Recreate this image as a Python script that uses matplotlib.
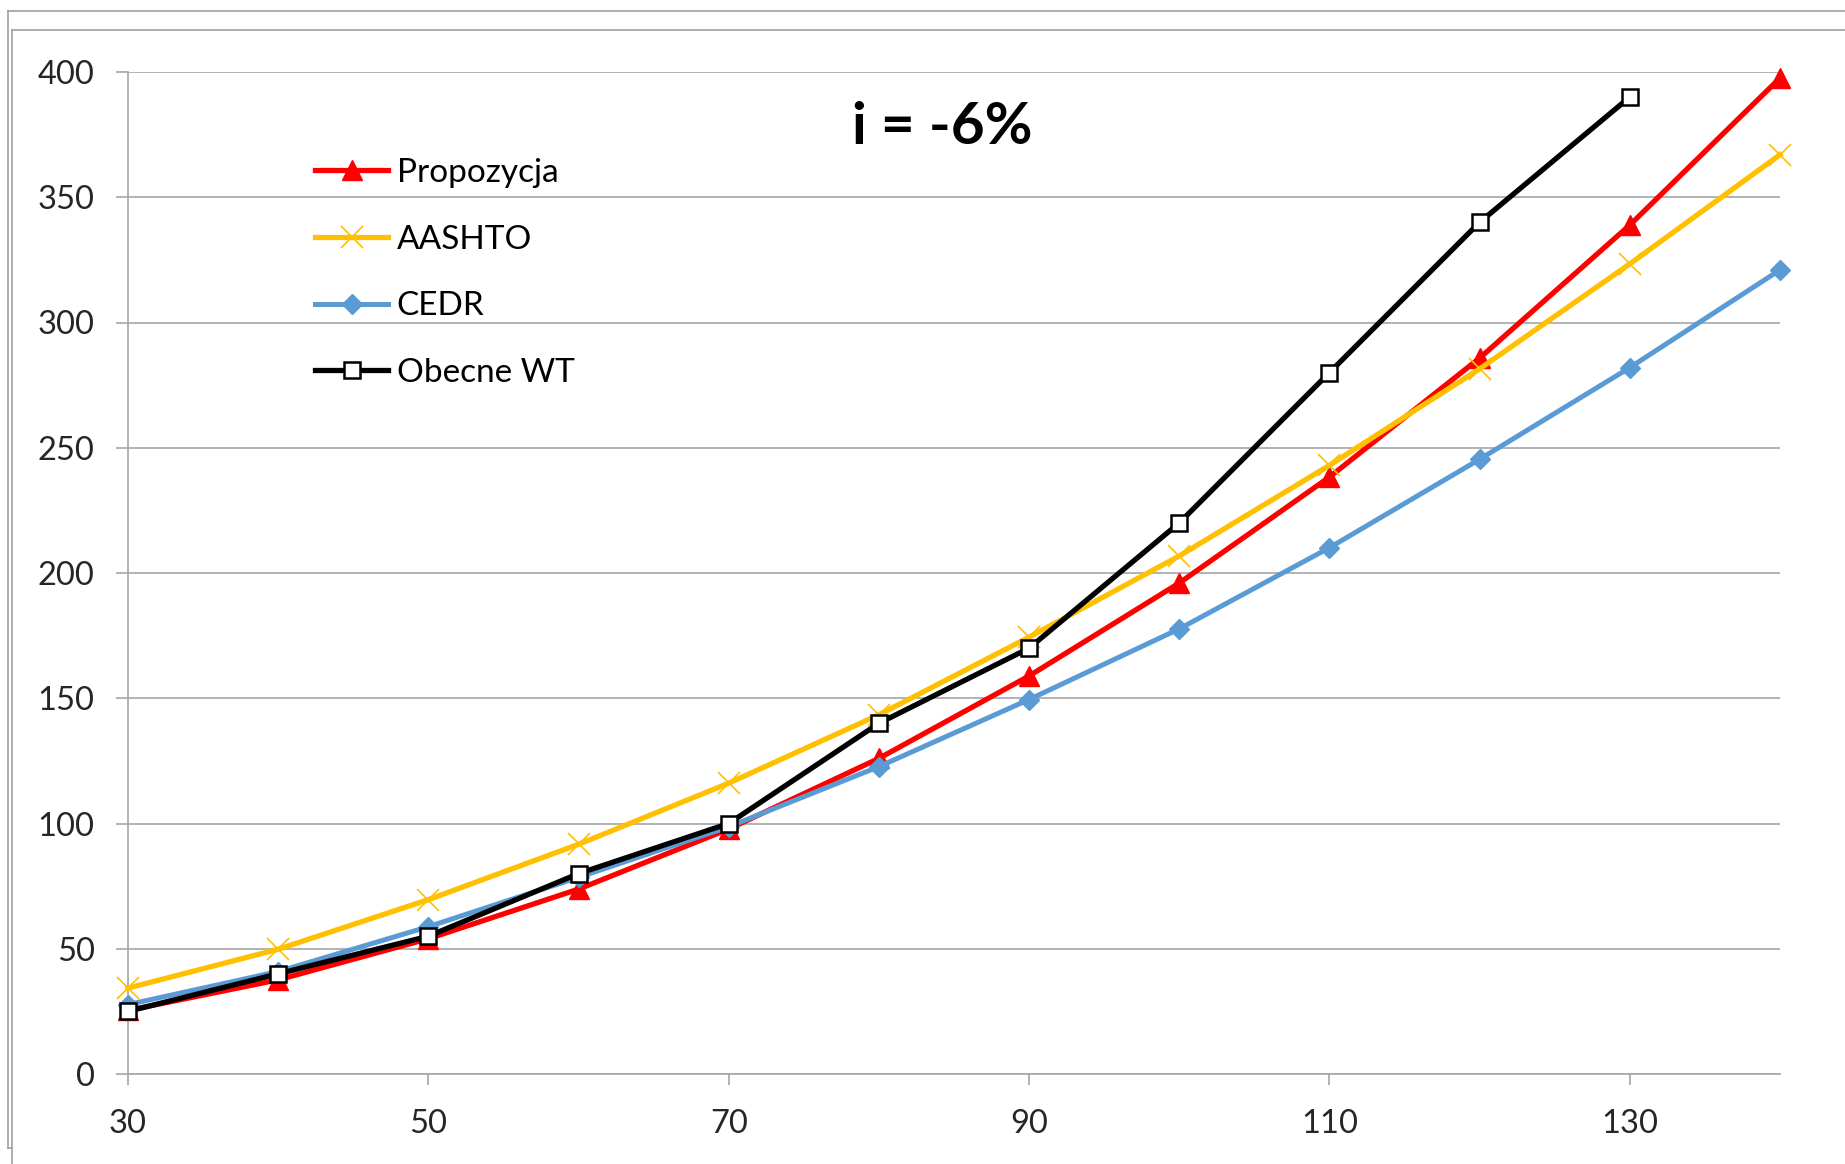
import matplotlib
matplotlib.use('Agg')
import matplotlib.pyplot as plt
from matplotlib.lines import Line2D

plt.rcParams['font.family'] = ['Lato', 'DejaVu Sans']

# speed values (x axis)
speeds = [30, 40, 50, 60, 70, 80, 90, 100, 110, 120, 130, 140]
speeds_wt = [30, 40, 50, 60, 70, 80, 90, 100, 110, 120, 130]

propozycja = [25.4, 37.6, 54, 73.8, 97.8, 126, 158.9, 196, 238.3, 285.8, 338.9, 397.6]
aashto = [34.3, 49.8, 69.6, 91.7, 116.1, 143.4, 174.4, 206.8, 243, 281.5, 323.4, 367]
cedr = [27.7, 40.9, 58.8, 78.5, 98.7, 122.7, 149.5, 177.7, 210.1, 245.4, 282, 321]
obecne_wt = [25, 40, 55, 80, 100, 140, 170, 220, 280, 340, 390]

x_ticks = [30, 50, 70, 90, 110, 130]
y_ticks = [0, 50, 100, 150, 200, 250, 300, 350, 400]

W, H = 1845, 1164
fig = plt.figure(figsize=(W / 100, H / 100), dpi=100)
ax = fig.add_axes([128 / W, 1 - 1074 / H, (1780 - 128) / W, (1074 - 72) / H])

grid_col = '#a6a6a6'

ax.plot(speeds, propozycja, color='#ff0000', lw=3.8, marker='^', ms=14,
        label='Propozycja', zorder=3, clip_on=False)
ax.plot(speeds, aashto, color='#ffc000', lw=3.8, marker='x', ms=16, mew=1.2,
        label='AASHTO', zorder=4, clip_on=False)
ax.plot(speeds, cedr, color='#5b9bd5', lw=3.6, marker='D', ms=10,
        label='CEDR', zorder=5, clip_on=False)
ax.plot(speeds_wt, obecne_wt, color='black', lw=3.8, marker='s', ms=12,
        mfc='white', mec='black', mew=1.8, label='Obecne WT', zorder=6, clip_on=False)

ax.set_xlim(30, 140)
ax.set_ylim(0, 400)
ax.set_xticks(x_ticks)
ax.set_yticks(y_ticks)
ax.yaxis.grid(True, color=grid_col, lw=1.2)
ax.set_axisbelow(True)

for s in ['top', 'right']:
    ax.spines[s].set_visible(False)
for s in ['left', 'bottom']:
    ax.spines[s].set_color(grid_col)
    ax.spines[s].set_linewidth(1.2)

ax.tick_params(axis='y', length=9, width=1.2, color=grid_col, pad=15,
               labelsize=23.5, labelcolor='#262626')
ax.tick_params(axis='x', length=8, width=1.2, color=grid_col, pad=17,
               labelsize=23.5, labelcolor='#262626')

ax.text(942, H - 127, 'i = -6%', transform=None, fontsize=42, fontweight='bold',
        ha='center', va='center')

# legend drawn in figure pixel space
ax.legend(loc='upper left', bbox_to_anchor=(315 / W, 1 - 158 / H),
          bbox_transform=fig.transFigure, frameon=False, fontsize=24,
          handlelength=2.2, handletextpad=0.25, labelspacing=1.1,
          borderpad=0, borderaxespad=0)

# chart frame (double border, cut off at right and bottom)
fc = '#999999'
fig.add_artist(Line2D([8 / W, 8 / W], [1 - 11 / H, 1 - 1148 / H], color=fc, lw=1.1, transform=fig.transFigure))
fig.add_artist(Line2D([8 / W, 1], [1 - 11 / H, 1 - 11 / H], color=fc, lw=1.1, transform=fig.transFigure))
fig.add_artist(Line2D([8 / W, 12 / W], [1 - 1148 / H, 1 - 1148 / H], color=fc, lw=1.1, transform=fig.transFigure))
fig.add_artist(Line2D([12 / W, 12 / W], [1 - 30 / H, 0], color=fc, lw=1.1, transform=fig.transFigure))
fig.add_artist(Line2D([12 / W, 1], [1 - 30 / H, 1 - 30 / H], color=fc, lw=1.1, transform=fig.transFigure))

fig.savefig('out.png', dpi=100)
